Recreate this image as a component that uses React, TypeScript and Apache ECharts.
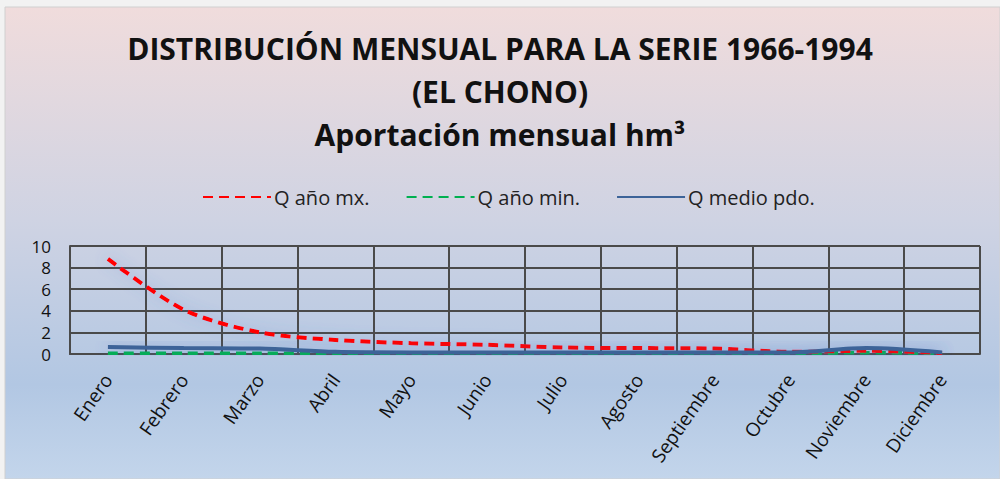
import React, { useEffect, useRef } from "react";
import * as echarts from "echarts";

const months = ["Enero", "Febrero", "Marzo", "Abril", "Mayo", "Junio", "Julio", "Agosto", "Septiembre", "Octubre", "Noviembre", "Diciembre"];
const qMax = [8.8, 4.1, 2.0, 1.3, 1.0, 0.85, 0.6, 0.55, 0.5, 0.2, 0.3, 0.1];
const qMin = [0.05, 0.05, 0.05, 0.05, 0.05, 0.05, 0.05, 0.05, 0.05, 0.05, 0.15, 0.05];
const qMedio = [0.65, 0.55, 0.5, 0.2, 0.15, 0.15, 0.15, 0.15, 0.15, 0.15, 0.55, 0.15];
const yTicks = { min: 0, max: 10, interval: 2 };

const FONT = "'Open Sans', 'Noto Sans', sans-serif";

export default function App() {
  const ref = useRef<HTMLDivElement>(null);
  useEffect(() => {
    if (!ref.current) return;
    const chart = echarts.init(ref.current, null, { renderer: "svg" });
    const shadow = { shadowColor: "rgba(80,120,200,0.45)", shadowBlur: 14, shadowOffsetX: 0, shadowOffsetY: 0 };
    chart.setOption({
      animation: false,
      backgroundColor: "#f2f2f2",
      graphic: [
        {
          type: "rect",
          silent: true,
          z: -10,
          shape: { x: 5, y: 7, width: 995, height: 472 },
          style: {
            fill: new echarts.graphic.LinearGradient(0, 0, 0, 1, [
              { offset: 0, color: "#f0dcdc" },
              { offset: 0.45, color: "#cfd3e3" },
              { offset: 0.8, color: "#b2c7e3" },
              { offset: 1, color: "#c3d5eb" },
            ]),
            stroke: "#d0d0d0",
            lineWidth: 1,
          },
        },
      ],
      title: {
        text: "DISTRIBUCIÓN MENSUAL PARA LA SERIE 1966-1994\n(EL CHONO)\nAportación mensual hm³",
        left: "center",
        top: 22,
        textStyle: { fontFamily: FONT, fontWeight: "bold", fontSize: 30, color: "#111", lineHeight: 43 },
      },
      legend: {
        top: 182,
        left: 197,
        itemWidth: 68,
        itemHeight: 4,
        itemGap: 36,
        itemStyle: { opacity: 0 },
        textStyle: { fontFamily: FONT, fontSize: 20, color: "#222", padding: [0, 0, 0, -2] },
        data: ["Q año mx.", "Q año min.", "Q medio pdo."],
      },
      grid: { left: 70, right: 20, top: 246, bottom: 125, containLabel: false },
      xAxis: {
        type: "category",
        data: months,
        boundaryGap: true,
        axisLine: { show: true, lineStyle: { color: "#4a4a4a", width: 2 } },
        axisTick: { show: false },
        splitLine: { show: true, lineStyle: { color: "#4a4a4a", width: 2 } },
        axisLabel: {
          rotate: 55,
          interval: 0,
          margin: 22,
          fontFamily: FONT,
          fontSize: 19,
          color: "#111",
        },
      },
      yAxis: {
        type: "value",
        min: yTicks.min,
        max: yTicks.max,
        interval: yTicks.interval,
        axisLine: { show: true, lineStyle: { color: "#4a4a4a", width: 2 } },
        axisTick: { show: false },
        splitLine: { show: true, lineStyle: { color: "#4a4a4a", width: 2 } },
        axisLabel: { fontFamily: FONT, fontSize: 17, lineHeight: 17, color: "#111", margin: 19 },
      },
      series: [
        {
          name: "Q año mx.",
          type: "line",
          data: qMax,
          smooth: 0.3,
          symbol: "none",
          z: 3,
          itemStyle: { color: "#ff0000" },
          lineStyle: { color: "#ff0000", width: 4, type: [10, 6], ...shadow },
        },
        {
          name: "Q año min.",
          type: "line",
          data: qMin,
          smooth: 0.3,
          symbol: "none",
          z: 2,
          itemStyle: { color: "#00b050" },
          lineStyle: { color: "#00b050", width: 4, type: [10, 6], ...shadow },
        },
        {
          name: "Q medio pdo.",
          type: "line",
          data: qMedio,
          smooth: 0.3,
          symbol: "none",
          z: 4,
          itemStyle: { color: "#3c6398" },
          lineStyle: { color: "#3c6398", width: 4, ...shadow },
        },
      ],
    });
    return () => chart.dispose();
  }, []);
  return <div ref={ref} style={{ position: "absolute", left: 0, top: 0, width: 1000, height: 479 }} />;
}
